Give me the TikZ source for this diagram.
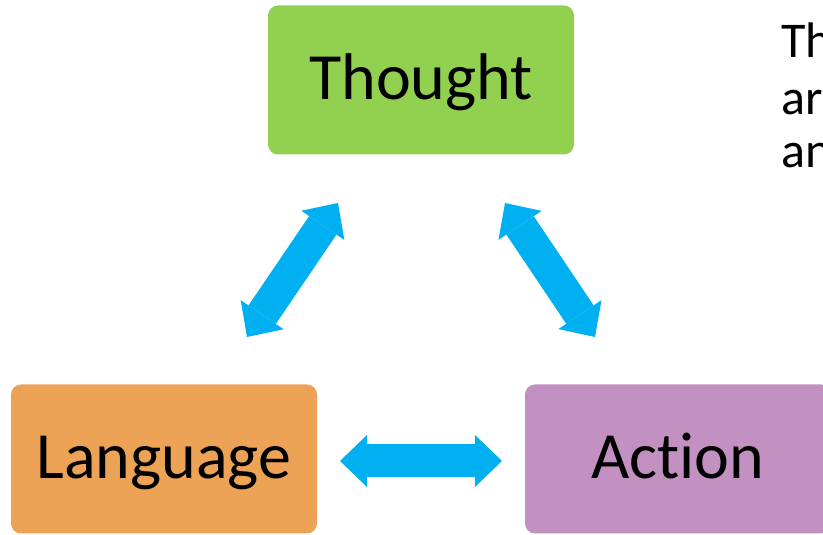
\documentclass[tikz,border=0pt]{standalone}
\usepackage{fontspec}
\setmainfont{Carlito}[Ligatures=NoCommon]
\usetikzlibrary{arrows.meta}
\definecolor{thoughtgreen}{RGB}{146,208,80}
\definecolor{languageorange}{RGB}{237,163,86}
\definecolor{actionpurple}{RGB}{195,144,194}
\definecolor{linkblue}{RGB}{0,176,240}
\def\boxwidth{306pt}
\def\boxheight{149pt}

\begin{document}
\begin{tikzpicture}[x=1pt, y=1pt,
  box/.style={rounded corners=10pt, minimum width=\boxwidth, minimum height=\boxheight,
    inner sep=0pt, text height=48pt, text depth=8pt, font=\fontsize{66}{79}\selectfont},
  twoway/.style={draw=linkblue, line width=33pt, {Triangle[width=52pt, length=27pt, line width=0pt]}-{Triangle[width=52pt, length=27pt, line width=0pt]}},
  side/.style={anchor=base west, inner sep=0pt, font=\fontsize{50}{55}\selectfont}]
\useasboundingbox (0,0) rectangle (823,535);
\clip (0,0) rectangle (823,535);
% the three boxes
\node[box, fill=thoughtgreen] (thought) at (421,455) {Thought};
\node[box, fill=languageorange] (language) at (164,76) {Language};
\node[box, fill=actionpurple] (action) at (678,76) {Action};
% text on the right, cut by the border
\node[side] (line1) at (781,477) {Th};
\node[side] (line2) at (781,420) {ar};
\node[side] (line3) at (781,367) {an};
% ends of the links
\coordinate (tl) at (338,332);
\coordinate (lt) at (247,198);
\coordinate (ta) at (505,332);
\coordinate (at) at (595,198);
\coordinate (la) at (340,74);
\coordinate (al) at (502,74);
% links
\draw[twoway] (lt) -- (tl);
\draw[twoway] (ta) -- (at);
\draw[twoway] (la) -- (al);
\end{tikzpicture}
\end{document}
